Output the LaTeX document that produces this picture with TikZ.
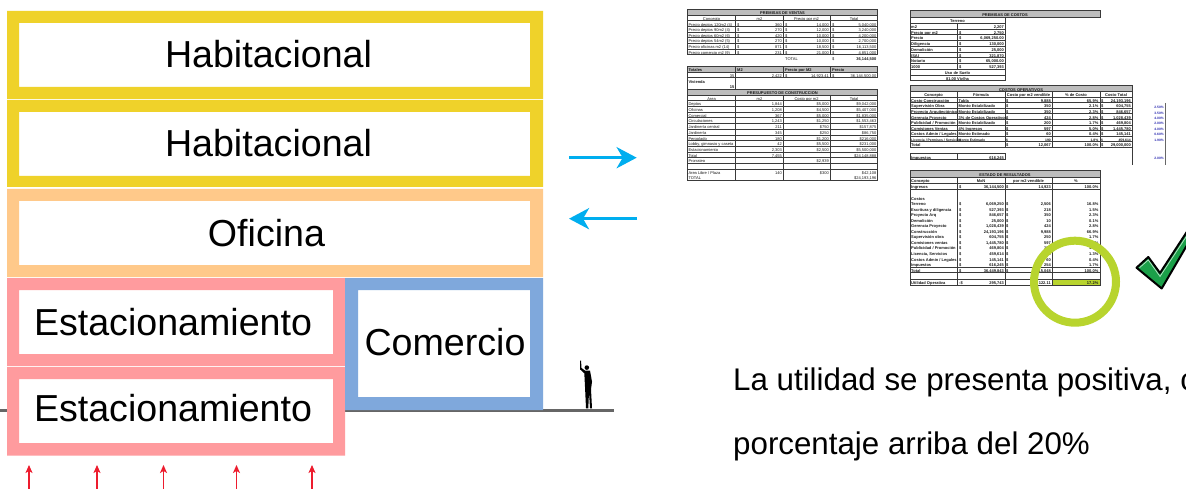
\documentclass[tikz,border=0pt]{standalone}
\usepackage{fontspec}
\setmainfont{Liberation Sans}
\usetikzlibrary{arrows.meta}
\definecolor{cyell}{HTML}{EFD22A}
\definecolor{corng}{HTML}{FFC98A}
\definecolor{cpink}{HTML}{FF9B9E}
\definecolor{cblue}{HTML}{7FA8DC}
\definecolor{cgrnd}{HTML}{666666}
\definecolor{carrow}{HTML}{00AEEF}
\definecolor{cred}{HTML}{ED1C2E}
\definecolor{clime}{HTML}{B8D42E}
\definecolor{chead}{HTML}{BDBDBD}
\definecolor{cline}{HTML}{3A3A3A}
\definecolor{cnote}{HTML}{2B2BB0}
\definecolor{ccheck}{HTML}{1BA049}
\newcounter{cellno}
\tikzset{
  bigtext/.style={font=\fontsize{37.6}{40}\selectfont,text=black,inner sep=0pt},
  note/.style={font=\fontsize{31.3}{34}\selectfont,text=black,inner sep=0pt,anchor=base west},
  flow/.style={draw=carrow,line width=3.6pt,-{Stealth[length=20pt,width=21pt,inset=6pt]}},
  load/.style={draw=cred,line width=1.1pt,-{Stealth[length=8pt,width=7pt,inset=2pt]}},
  grid/.style={draw=cline,line width=.6pt},
  heavy/.style={draw=cline,line width=1pt},
  cellbase/.style={inner sep=0pt,text height=2.9pt,text depth=.9pt,text=black!90,yshift=-1.4pt,font=\fontsize{4}{4}\selectfont},
  cl/.style={cellbase,anchor=west},
  cr/.style={cellbase,anchor=east},
  cc/.style={cellbase,anchor=center},
}
% cells: x, y, text
\newcommand{\CL}[3]{\stepcounter{cellno}\node[cl] (cell\thecellno) at (#1,#2) {#3};}
\newcommand{\CLB}[3]{\stepcounter{cellno}\node[cl] (cell\thecellno) at (#1,#2) {\bfseries #3};}
\newcommand{\CR}[3]{\stepcounter{cellno}\node[cr] (cell\thecellno) at (#1,#2) {#3};}
\newcommand{\CRB}[3]{\stepcounter{cellno}\node[cr] (cell\thecellno) at (#1,#2) {\bfseries #3};}
\newcommand{\CC}[3]{\stepcounter{cellno}\node[cc] (cell\thecellno) at (#1,#2) {#3};}
\newcommand{\CCB}[3]{\stepcounter{cellno}\node[cc] (cell\thecellno) at (#1,#2) {\bfseries #3};}
% table 1 row
\newcommand{\RA}[5]{\CL{688.3}{#1}{#2}\CL{737}{#1}{\$}\CR{782}{#1}{#3}\CL{785}{#1}{\$}\CR{829}{#1}{#4}\CL{832}{#1}{\$}\CR{876.5}{#1}{#5}}
% table 3 row
\newcommand{\RB}[5]{\CL{688.3}{#1}{#2}\CR{782}{#1}{#3}\CR{829}{#1}{#4}\CR{876.5}{#1}{#5}}
% table 4 row
\newcommand{\RC}[3]{\CLB{911}{#1}{#2}\CLB{959}{#1}{\$}\CRB{1004}{#1}{#3}}
% table 5 row: concept, formula, cost, percent, total
\newcommand{\RD}[6]{\CLB{911}{#1}{#2}\CLB{958.5}{#1}{#3}\CLB{1006}{#1}{\$}\CRB{1051}{#1}{#4}\CRB{1098.5}{#1}{#5}\CLB{1101}{#1}{\$}\CRB{1131}{#1}{#6}}
% table 6 row
\newcommand{\RF}[5]{\CLB{911}{#1}{#2}\CLB{959}{#1}{\$}\CRB{1004}{#1}{#3}\CLB{1006}{#1}{\$}\CRB{1051}{#1}{#4}\CRB{1098.5}{#1}{#5}}
\begin{document}
\begin{tikzpicture}[x=1pt,y=-1pt]
\useasboundingbox (0,0) rectangle (1186,489);
\clip (0,0) rectangle (1186,489);
\fill[white] (0,0) rectangle (1186,489);

% ground
\fill[cgrnd] (0,409.3) rectangle (614,412.3);

% building frames
\fill[cyell,even odd rule] (7,11) rectangle (543,99) (19,23) rectangle (530,87);
\fill[cyell,even odd rule] (7,100) rectangle (543,187) (19,112) rectangle (530,176);
\fill[corng,even odd rule] (7,189) rectangle (543,277) (19,201) rectangle (530,265);
\fill[cpink,even odd rule] (7,278) rectangle (345,366) (19,290) rectangle (333,354);
\fill[white] (19,379) rectangle (333,443);
\fill[cpink,even odd rule] (7,367) rectangle (345,455.5) (19,379) rectangle (333,443);
\fill[white] (358,290) rectangle (530,397);
\fill[cblue,even odd rule] (345,278) rectangle (543,410) (358,290) rectangle (530,397);

\node[bigtext] (hab1) at (268.5,54) {Habitacional};
\node[bigtext] (hab2) at (268.5,143) {Habitacional};
\node[bigtext] (ofi) at (266.5,233) {Oficina};
\node[bigtext] (est1) at (173,322) {Estacionamiento};
\node[bigtext] (est2) at (173,408) {Estacionamiento};
\node[bigtext] (com) at (445,342) {Comercio};

% person
\fill[black] (580.2,360.7) -- (581.2,360.7) -- (581.3,367.8) -- (585,370.6) -- (590,370.6)
  -- (592,381.7) -- (591,389.3) -- (592,408.3) -- (590,408.3) -- (589,391.7) -- (588.3,408.3)
  -- (586,408.3) -- (585,386.7) -- (584.3,373.3) -- (580,369.3) -- cycle;
\fill[black] (586.8,367.6) circle (2.3);

% horizontal arrows
\coordinate (fa) at (569,157.7);
\coordinate (fb) at (636.7,157.7);
\coordinate (ga) at (637,218.7);
\coordinate (gb) at (569,218.7);
\draw[flow] (fa) -- (fb);
\draw[flow] (ga) -- (gb);

% load arrows
\foreach \i/\x in {1/29,2/97,3/163.5,4/236.5,5/312}{
  \coordinate (la\i) at (\x,489);
  \coordinate (lb\i) at (\x,465);
  \draw[load] (la\i) -- (lb\i);
}

% ---------- table 1
\fill[chead] (687.3,9.5) rectangle (877.7,15.2);
\draw[heavy] (687.3,9.5) rectangle (877.7,55);
\draw[grid] (687.3,15.2) -- (877.7,15.2) (687.3,20.8) -- (877.7,20.8);
\foreach \y in {26.5,32.1,37.8,43.4,49.2} \draw[grid] (687.3,\y) -- (877.7,\y);
\draw[grid] (735.7,15.2) -- (735.7,55) (783.3,15.2) -- (783.3,55) (830,15.2) -- (830,55);
\CCB{782.5}{12.3}{PREMISAS DE VENTAS}
\CC{711.5}{18}{Concepto}\CC{759.5}{18}{m2}\CC{806.5}{18}{Precio por m2}\CC{854}{18}{Total}
\RA{23.7}{Precio deptos 120m2 (4)}{360}{14,000}{5,040,000}
\RA{29.3}{Precio deptos 90m2 (4)}{270}{12,000}{3,240,000}
\RA{35}{Precio deptos 60m2 (6)}{420}{10,000}{4,200,000}
\RA{40.6}{Precio deptos 54m2 (5)}{270}{10,000}{2,700,000}
\RA{46.3}{Precio oficinas m2 (14)}{871}{18,500}{16,113,500}
\RA{52.1}{Precio comercio m2 (9)}{231}{21,000}{4,851,000}
\CL{785}{57.8}{TOTAL}\CL{832}{57.8}{\$}\CRB{876.5}{57.8}{36,144,500}

% ---------- table 2
\fill[chead] (687.3,66.7) rectangle (877.7,72.3);
\draw[heavy] (687.3,66.7) rectangle (877.7,78);
\draw[grid] (687.3,72.3) -- (877.7,72.3) (735.7,66.7) -- (735.7,89.3) (783.3,66.7) -- (783.3,78) (830,66.7) -- (830,78);
\draw[grid] (687.3,78) -- (687.3,89.3);
\CLB{688.3}{69.5}{Totales}\CLB{737}{69.5}{M2}\CLB{785}{69.5}{Precio por M2}\CLB{832}{69.5}{Precio}
\CR{734.5}{75.2}{35}\CR{782}{75.2}{2,422}\CL{785}{75.2}{\$}\CR{829}{75.2}{14,923.41}\CL{832}{75.2}{\$}\CR{876.5}{75.2}{36,144,500.00}
\CLB{688.3}{81}{Vivienda}\CRB{734.5}{86.5}{15}

% ---------- table 3
\fill[chead] (687.3,89.3) rectangle (877.7,95);
\draw[heavy] (687.3,89.3) rectangle (877.7,180.3);
\draw[grid] (687.3,95) -- (877.7,95);
\foreach \i in {0,...,12}{\pgfmathsetmacro{\yy}{100.7+5.69*\i}\draw[grid] (687.3,\yy) -- (877.7,\yy);}
\draw[grid] (735.7,95) -- (735.7,180.3) (783.3,95) -- (783.3,180.3) (830,95) -- (830,180.3);
\CCB{782.5}{92.2}{PRESUPUESTO DE CONSTRUCCION}
\CC{711.5}{97.9}{Area}\CC{759.5}{97.9}{m2}\CC{806.5}{97.9}{Costo por m2}\CC{854}{97.9}{Total}
\RB{103.5}{Deptos}{1,844}{\$5,000}{\$9,042,000}
\RB{109.2}{Oficinas}{1,208}{\$4,500}{\$5,407,000}
\RB{114.9}{Comercial}{367}{\$5,000}{\$1,835,000}
\RB{120.6}{Circulaciones}{1,243}{\$1,250}{\$1,553,463}
\RB{126.3}{Jardinería central}{211}{\$750}{\$157,875}
\RB{132}{Jardinería}{345}{\$250}{\$86,750}
\RB{137.7}{Pergolado}{180}{\$1,200}{\$216,000}
\RB{143.4}{Lobby, gimnasio y caseta}{42}{\$5,500}{\$231,000}
\RB{149}{Estacionamiento}{2,303}{\$2,500}{\$5,500,000}
\RB{154.7}{Total}{7,455}{}{\$24,148,888}
\RB{160.4}{Prorrateo}{}{\$2,939}{}
\RB{171.8}{Area Libre / Plaza}{140}{\$300}{\$42,108}
\RB{177.5}{TOTAL}{}{}{\$24,193,196}

% ---------- table 4
\fill[chead] (910,11) rectangle (1100,17.3);
\draw[heavy] (910,11) rectangle (1100,17.3);
\draw[heavy] (910,17.3) rectangle (1005,80.7);
\foreach \y in {23.1,28.9,34.6,40.4,46.1,51.9,57.7,63.4,69.2,75} \draw[grid] (910,\y) -- (1005,\y);
\draw[grid] (957.3,23.1) -- (957.3,69.2);
\CCB{1005}{14.2}{PREMISAS DE COSTOS}
\CCB{957.5}{20.2}{Terreno}
\CLB{911}{26}{m2}\CRB{1004}{26}{2,207}
\RC{31.7}{Precio por m2}{2,750}
\CLB{911}{37.5}{Precio}\CLB{959}{37.5}{\$}\CRB{1004}{37.5}{6,069,250.00}
\RC{43.3}{Diligencia}{130,000}
\RC{49}{Demolición}{25,000}
\RC{54.8}{ISAI}{321,870}
\RC{60.6}{Notario}{65,000.00}
\RC{66.3}{1000}{527,393}
\CCB{957.5}{72.1}{Uso de Suelo}
\CCB{957.5}{77.8}{81.00 Viv/ha}

% ---------- table 5
\fill[chead] (910,86) rectangle (1132.3,91.5);
\draw[heavy] (910,86) rectangle (1132.3,147.3);
\draw[grid] (910,91.5) -- (1132.3,91.5);
\foreach \i in {1,...,9}{\pgfmathsetmacro{\yy}{91.5+5.57*\i}\draw[grid] (910,\yy) -- (1132.3,\yy);}
\draw[grid] (957.3,91.5) -- (957.3,141.7) (1005,91.5) -- (1005,147.3) (1052.3,91.5) -- (1052.3,147.3) (1100,91.5) -- (1100,147.3);
\CCB{1021}{88.8}{COSTOS OPERATIVOS}
\CCB{933.5}{94.4}{Concepto}\CCB{981}{94.4}{Fórmula}\CCB{1028.5}{94.4}{Costo por m2 vendible}\CCB{1076}{94.4}{\% de Costo}\CCB{1116}{94.4}{Costo Total}
\RD{100}{Costo Construcción}{Tabla}{9,888}{65.9\%}{24,193,196}
\RD{105.5}{Supervisión Obra}{Monto Estabilizado}{350}{2.1\%}{604,755}
\RD{111.1}{Proyecto Arquitectónico}{Monto Estabilizado}{350}{2.3\%}{846,657}
\RD{116.7}{Gerencia Proyecto}{3\% de Costos Operativos}{424}{2.8\%}{1,028,439}
\RD{122.2}{Publicidad / Promoción}{Monto Estabilizado}{200}{1.7\%}{469,804}
\RD{127.8}{Comisiones Ventas}{4\% Ingresos}{597}{5.0\%}{1,445,780}
\RD{133.4}{Costos Admin / Legales}{Monto Estimado}{60}{0.4\%}{145,141}
{\tikzset{cellbase/.append style={font=\fontsize{3.4}{4}\selectfont}}
\RD{138.9}{Licencia / Permisos / Servicios}{Monto Estimado}{190}{1.8\%}{459,614}}
\RD{144.5}{Total}{}{12,067}{100.0\%}{29,000,000}
% impuestos
\draw[heavy] (910,153.3) rectangle (1005,160);
\draw[grid] (957.3,153.3) -- (957.3,160);
\CLB{911}{156.7}{Impuestos}\CRB{1004}{156.7}{616,245}
% side lines and notes
\draw[grid] (1132.3,147.3) -- (1132.3,165);
\draw[draw=black!60,line width=.9pt] (1165,103) -- (1165,165);
\foreach \y/\t in {106/2.50,111.7/3.50,117/4.00,122.3/2.00,127.7/4.00,133.3/0.60,139/1.90,157/2.00}{
  \stepcounter{cellno}\node[cr,text=cnote,font=\fontsize{3.3}{4}\selectfont\bfseries] (cell\thecellno) at (1164,\y) {\t\%};
}

% ---------- table 6
\fill[chead] (910,171) rectangle (1100,177.3);
\fill[clime] (1052.3,279) rectangle (1100,285);
\draw[heavy] (910,171) rectangle (1100,285);
\draw[grid] (910,177.3) -- (1100,177.3) (910,183.3) -- (1100,183.3) (910,189) -- (1100,189);
\draw[grid] (910,267.3) -- (1100,267.3) (910,272.3) -- (1100,272.3);
\draw[heavy] (910,279) -- (1100,279);
\draw[grid] (957.3,177.3) -- (957.3,285) (1005,177.3) -- (1005,285) (1052.3,177.3) -- (1052.3,285);
\CCB{1005}{174.3}{ESTADO DE RESULTADOS}
\CLB{911}{180.3}{Concepto}\CCB{981}{180.3}{MxN}\CCB{1028.5}{180.3}{por m2 vendible}\CCB{1076}{180.3}{\%}
\RF{186}{Ingresos}{36,144,500}{14,923}{100.0\%}
\CLB{911}{197.7}{Costos}
\RF{203.3}{Terreno}{6,069,250}{2,506}{16.8\%}
\RF{208.7}{Escritura y diligencia}{527,393}{218}{1.5\%}
\RF{214}{Proyecto Arq}{846,657}{350}{2.3\%}
\RF{219.7}{Demolición}{25,000}{10}{0.1\%}
\RF{225.3}{Gerencia Proyecto}{1,028,439}{424}{2.8\%}
\RF{231}{Construcción}{24,193,196}{9,988}{66.9\%}
\RF{236.3}{Supervisión obra}{604,755}{250}{1.7\%}
\RF{242}{Comisiones ventas}{1,445,780}{597}{4.0\%}
\RF{247.3}{Publicidad / Promoción}{469,804}{194}{1.3\%}
\RF{253}{Licencia, Servicios}{459,614}{190}{1.3\%}
\RF{258.7}{Costos Admin / Legales}{145,141}{60}{0.4\%}
\RF{264.3}{Impuestos}{616,245}{254}{1.7\%}
\RF{269.7}{Total}{36,449,843}{15,048}{100.0\%}
\CLB{911}{281.9}{Utilidad Operativa}\CLB{959}{281.9}{-\$}\CRB{1004}{281.9}{295,743}\CRB{1051}{281.9}{122.11}\CRB{1098.5}{281.9}{17.2\%}

% lime ring
\coordinate (ringc) at (1075,281.7);
\draw[clime,line width=8pt] (ringc) circle (41);

% check mark
\filldraw[fill=ccheck,draw=black,line width=2pt,line join=round]
  (1136.5,267.7) -- (1148.3,257) -- (1160,273) -- (1190,227) -- (1190,240) -- (1161.7,288.5) -- cycle;
\draw[white!70!ccheck,line width=.7pt] (1139.5,267.7) -- (1148.3,260) -- (1160,276.5) -- (1188,234);

% note text
\node[note] (n1) at (733,390) {La utilidad se presenta positiva, c};
\node[note] (n2) at (733,454) {porcentaje arriba del 20\%};
\end{tikzpicture}
\end{document}
